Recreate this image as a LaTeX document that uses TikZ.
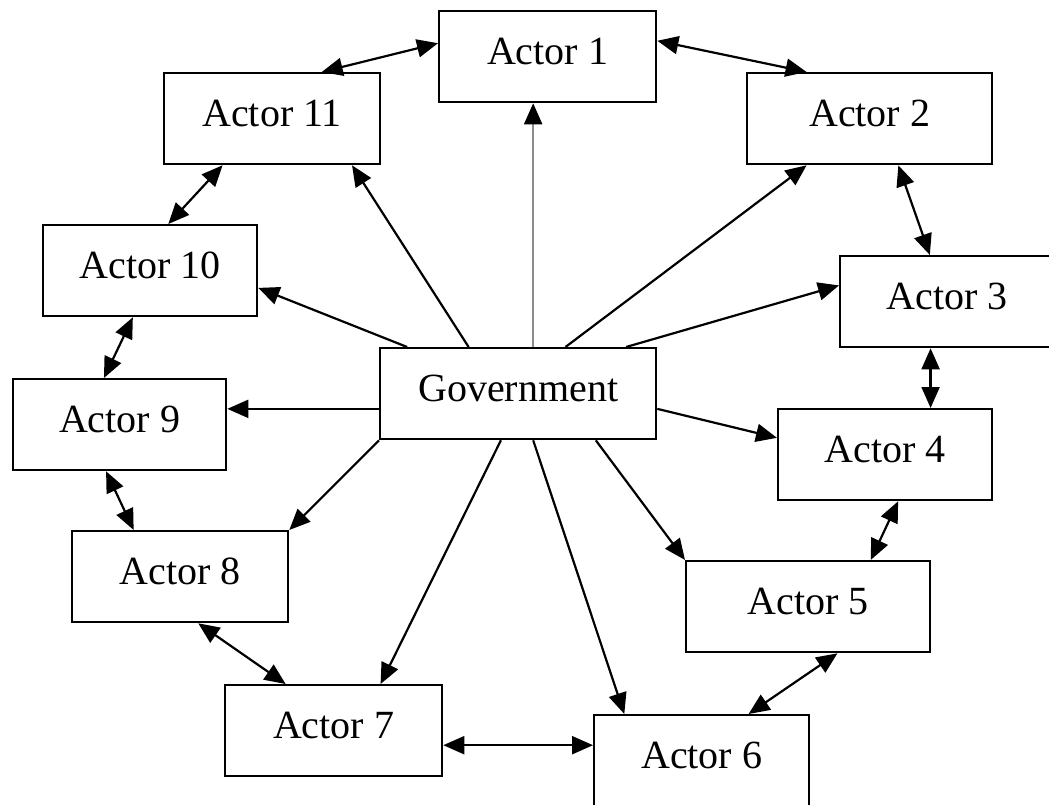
\documentclass[tikz,border=0pt]{standalone}
\usepackage{fontspec}
\setmainfont{Liberation Serif}
\usetikzlibrary{arrows.meta,calc}
\tikzset{
  actorbox/.style={draw=black, line width=2.3pt, anchor=north west, inner sep=0pt,
    text height=53pt, text depth=38pt, align=center,
    font=\fontsize{40}{42}\selectfont},
  link/.style={line width=2.2pt, -{Triangle[length=21pt,width=18pt,color=black]}},
  dlink/.style={line width=2.2pt, {Triangle[length=21pt,width=18pt]}-{Triangle[length=21pt,width=18pt]}},
}
\begin{document}
\begin{tikzpicture}[x=1pt,y=1pt]
\useasboundingbox (0,0) rectangle (1049,-805);
\node[actorbox, minimum width=217pt] (a1)  at (438,-10)  {Actor 1};
\node[actorbox, minimum width=245pt] (a2)  at (746,-72)  {Actor 2};
\node[actorbox, minimum width=216pt] (a11) at (163,-72)  {Actor 11};
\node[actorbox, minimum width=214pt] (a10) at (42,-224)  {Actor 10};
\node[actorbox, minimum width=214pt] (a3)  at (839,-255) {Actor 3};
\node[actorbox, minimum width=276pt] (gov) at (379,-347) {Government};
\node[actorbox, minimum width=213pt] (a9)  at (12,-378)  {Actor 9};
\node[actorbox, minimum width=214pt] (a4)  at (777,-408) {Actor 4};
\node[actorbox, minimum width=216pt] (a8)  at (71,-530)  {Actor 8};
\node[actorbox, minimum width=244pt] (a5)  at (685,-560) {Actor 5};
\node[actorbox, minimum width=217pt] (a7)  at (224,-684) {Actor 7};
\node[actorbox, minimum width=215pt] (a6)  at (593,-714) {Actor 6};

% government links
\draw[link, draw=black!45] ($(gov.north west)!.554!(gov.north east)$) coordinate (g1) -- (g1 |- a1.south);
\draw[link] ($(gov.north west)!.67!(gov.north east)$) -- ($(a2.south west)!.245!(a2.south east)$);
\draw[link] ($(gov.north west)!.888!(gov.north east)$) -- ($(a3.north west)!.326!(a3.south west)$);
\draw[link] ($(gov.north east)!.663!(gov.south east)$) -- ($(a4.north west)!.32!(a4.south west)$);
\draw[link] ($(gov.south west)!.779!(gov.south east)$) -- (a5.north west);
\draw[link] ($(gov.south west)!.554!(gov.south east)$) -- ($(a6.north west)!.144!(a6.north east)$);
\draw[link] ($(gov.south west)!.438!(gov.south east)$) -- ($(a7.north west)!.714!(a7.north east)$);
\draw[link] (gov.south west) -- (a8.north east);
\draw[link] ($(gov.north west)!.663!(gov.south west)$) coordinate (g9) -- (g9 -| a9.east);
\draw[link] ($(gov.north west)!.101!(gov.north east)$) -- ($(a10.north east)!.685!(a10.south east)$);
\draw[link] ($(gov.north west)!.322!(gov.north east)$) -- ($(a11.south west)!.866!(a11.south east)$);

% actor ring
\draw[dlink] ($(a1.north west)!.356!(a1.south west)$) -- ($(a11.north west)!.727!(a11.north east)$);
\draw[dlink] ($(a1.north east)!.33!(a1.south east)$) -- ($(a2.north west)!.245!(a2.north east)$);
\draw[dlink] ($(a2.south west)!.616!(a2.south east)$) -- ($(a3.north west)!.42!(a3.north east)$);
\draw[dlink] ($(a4.north west)!.71!(a4.north east)$) coordinate (c34) (c34 |- a3.south) -- (c34);
\draw[dlink] ($(a4.south west)!.56!(a4.south east)$) -- ($(a5.north west)!.754!(a5.north east)$);
\draw[dlink] ($(a5.south west)!.619!(a5.south east)$) -- ($(a6.north west)!.716!(a6.north east)$);
\draw[dlink] ($(a7.north east)!.656!(a7.south east)$) coordinate (c76) -- (c76 -| a6.west);
\draw[dlink] ($(a8.south west)!.583!(a8.south east)$) -- ($(a7.north west)!.281!(a7.north east)$);
\draw[dlink] ($(a9.south west)!.437!(a9.south east)$) -- ($(a8.north west)!.287!(a8.north east)$);
\draw[dlink] ($(a10.south west)!.42!(a10.south east)$) -- ($(a9.north west)!.427!(a9.north east)$);
\draw[dlink] ($(a11.south west)!.273!(a11.south east)$) -- ($(a10.north west)!.584!(a10.north east)$);
\end{tikzpicture}
\end{document}
